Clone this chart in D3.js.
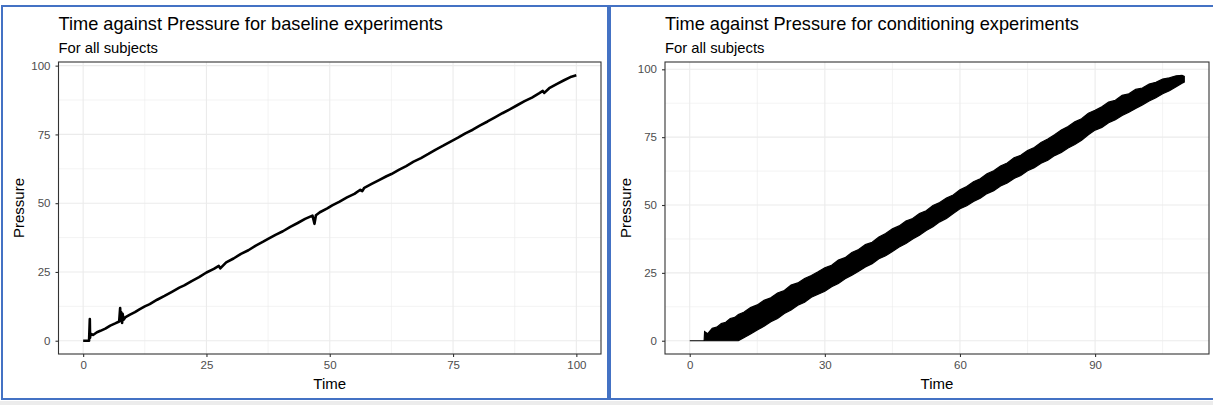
<!DOCTYPE html>
<html>
<head>
<meta charset="utf-8">
<script src="https://cdn.jsdelivr.net/npm/d3@7/dist/d3.min.js"></script>
<style>
  body { margin: 0; background: #fff; }
  svg text { font-family: "Liberation Sans", Arial, sans-serif; }
</style>
</head>
<body>
<svg id="chart" width="1213" height="405"></svg>
<script>
// baseline experiments: one noisy trace
var baseTime = [0, 1.2, 1.35, 1.4, 1.5, 2.0, 2.8, 3.5, 4.5, 5.5, 6.5, 7.3, 7.5, 7.6, 7.7, 7.9, 8.0, 8.2, 8.6, 9.5,
  10.5, 11.5, 12.5, 13.5, 15, 16.5, 18, 19.5, 20.5, 22, 23.5, 25, 26.5, 27.5, 27.8, 29, 30.5, 32, 33.5, 35,
  36.5, 37.5, 39, 40.5, 42, 43.5, 45, 46.5, 46.9, 47.2, 48, 49.5, 50.5, 52, 53.5, 55, 56.2, 56.6, 57, 58.5,
  60, 61.5, 62.5, 64, 65.5, 67, 68.5, 70, 71.5, 73, 74.5, 76, 77.5, 79, 80.5, 82, 83.5, 85, 86.5, 88,
  89.5, 91, 92.5, 93.2, 93.5, 94.5, 96, 97.5, 99, 100];
var basePressure = [0, 0, 7.9, 1.0, 2.6, 2.1, 3.1, 3.6, 4.4, 5.5, 6.3, 7.0, 11.9, 7.2, 10.4, 6.5, 9.8, 7.6, 8.6, 9.5,
  10.4, 11.5, 12.5, 13.3, 14.9, 16.3, 17.8, 19.3, 20.1, 21.7, 23.1, 24.8, 26.1, 27.2, 26.3, 28.5, 29.9, 31.6, 32.9, 34.6,
  36.0, 37.0, 38.5, 39.8, 41.4, 42.8, 44.3, 45.5, 42.5, 45.6, 46.7, 48.1, 49.2, 50.6, 52.1, 53.4, 54.9, 54.4, 55.6, 57.0,
  58.4, 59.8, 60.6, 62.1, 63.5, 65.1, 66.4, 67.9, 69.5, 70.9, 72.4, 73.8, 75.4, 76.7, 78.3, 79.7, 81.2, 82.7, 84.1, 85.6,
  87.1, 88.4, 90.0, 90.8, 90.1, 91.8, 93.3, 94.7, 96.0, 96.5];

// conditioning experiments: upper and lower edge of the dense band of traces
var condTime = [0, 3.2, 3.3, 4, 5, 6, 7, 8, 9, 10, 10.8, 12, 13.5, 15, 16.5, 18, 19.5, 21, 22.5, 24, 25.5, 27, 28.5, 30,
  31.5, 33, 34.5, 36, 37.5, 39, 40.5, 42, 43.5, 45, 46.5, 48, 49.5, 51, 52.5, 54, 55.5, 57, 58.5, 60,
  61.5, 63, 64.5, 66, 67.5, 69, 70.5, 72, 73.5, 75, 76.5, 78, 79.5, 81, 82.5, 84, 85.5, 87, 88.5, 90,
  91.5, 93, 94.5, 96, 97.5, 99, 100.5, 102, 103.5, 105, 106.5, 108, 109.3, 109.8];
var condUpper = [0, 0, 3.4, 2.6, 4.6, 5.0, 6.3, 6.8, 8.2, 8.6, 9.7, 10.5, 12.2, 13.2, 14.9, 15.8, 17.6, 18.5, 20.5, 21.3, 22.9, 24.0, 25.4, 26.9,
  27.8, 29.7, 30.6, 32.5, 33.6, 35.4, 36.3, 38.2, 39.5, 41.2, 42.3, 44.1, 45.0, 46.9, 47.9, 49.8, 50.9, 52.6, 53.7, 55.6,
  56.8, 58.6, 59.7, 61.5, 62.6, 64.4, 65.5, 67.4, 68.3, 70.1, 71.2, 73.0, 74.3, 75.9, 77.6, 78.9, 80.7, 81.8, 83.8, 84.9,
  86.2, 87.9, 88.6, 90.4, 91.0, 92.6, 93.1, 94.6, 95.2, 96.4, 96.9, 97.6, 97.8, 97.4];
var condLower = [0, 0, 0, 0, 0, 0, 0, 0, 0, 0, 0, 1.1, 2.5, 4.0, 5.3, 7.0, 8.2, 10.0, 11.3, 13.1, 14.2, 16.0, 17.1, 18.2,
  19.9, 21.1, 22.8, 24.1, 25.6, 27.2, 28.4, 30.2, 31.3, 32.9, 34.5, 35.8, 37.5, 38.9, 40.6, 42.0, 43.8, 45.0, 46.9, 48.6,
  49.7, 51.3, 52.5, 54.2, 55.3, 57.0, 58.1, 59.8, 60.9, 62.6, 63.7, 65.4, 66.5, 68.2, 69.4, 71.0, 72.3, 73.9, 75.9, 77.6,
  78.6, 80.3, 81.4, 83.0, 84.2, 85.6, 86.9, 88.3, 89.5, 91.0, 92.1, 93.6, 94.9, 95.3];

var baseXTicks = [0, 25, 50, 75, 100];
var baseXMinor = [12.5, 37.5, 62.5, 87.5];
var condXTicks = [0, 30, 60, 90];
var condXMinor = [15, 45, 75, 105];
var yTicks = [0, 25, 50, 75, 100];
var yMinor = [12.5, 37.5, 62.5, 87.5];

var svg = d3.select("#chart");

// light strip under the two boxes
svg.append("rect").attr("x", 0).attr("y", 401).attr("width", 1213).attr("height", 4).attr("fill", "#ececec");

// ggplot style 5% expansion
function padded(lo, hi) {
  var d = (hi - lo) * 0.05;
  return [lo - d, hi + d];
}

function drawPanel(cfg) {
  var top = 62, bottom = 354;
  var g = svg.append("g");

  var x = d3.scaleLinear()
    .domain(padded(d3.min(cfg.xs), d3.max(cfg.xs)))
    .range([cfg.left, cfg.right]);
  var y = d3.scaleLinear()
    .domain(padded(0, d3.max(cfg.ys)))
    .range([bottom, top]);

  // grid, minor first
  g.selectAll(".xminor").data(cfg.xMinor).enter().append("line")
    .attr("x1", d => x(d)).attr("x2", d => x(d)).attr("y1", top).attr("y2", bottom)
    .attr("stroke", "#ebebeb").attr("stroke-width", 0.6);
  g.selectAll(".yminor").data(yMinor).enter().append("line")
    .attr("x1", cfg.left).attr("x2", cfg.right).attr("y1", d => y(d)).attr("y2", d => y(d))
    .attr("stroke", "#ebebeb").attr("stroke-width", 0.6);
  g.selectAll(".xmajor").data(cfg.xTicks).enter().append("line")
    .attr("x1", d => x(d)).attr("x2", d => x(d)).attr("y1", top).attr("y2", bottom)
    .attr("stroke", "#ebebeb").attr("stroke-width", 1.1);
  g.selectAll(".ymajor").data(yTicks).enter().append("line")
    .attr("x1", cfg.left).attr("x2", cfg.right).attr("y1", d => y(d)).attr("y2", d => y(d))
    .attr("stroke", "#ebebeb").attr("stroke-width", 1.1);

  cfg.mark(g, x, y);

  // panel border
  g.append("rect")
    .attr("x", cfg.left).attr("y", top)
    .attr("width", cfg.right - cfg.left).attr("height", bottom - top)
    .attr("fill", "none").attr("stroke", "#333333").attr("stroke-width", 1.1);

  var xAxis = g.append("g")
    .attr("transform", "translate(0," + bottom + ")")
    .call(d3.axisBottom(x).tickValues(cfg.xTicks).tickSize(3).tickPadding(4));
  var yAxis = g.append("g")
    .attr("transform", "translate(" + cfg.left + ",0)")
    .call(d3.axisLeft(y).tickValues(yTicks).tickSize(3).tickPadding(5));

  [xAxis, yAxis].forEach(function (a) {
    a.select(".domain").remove();
    a.selectAll(".tick line").attr("stroke", "#333333").attr("stroke-width", 1.1);
    a.selectAll(".tick text")
      .attr("fill", "#4d4d4d")
      .style("font-size", "11.5px")
      .style("font-family", "'Liberation Sans', Arial, sans-serif");
  });

  // titles
  g.append("text").attr("x", cfg.left).attr("y", 29.5)
    .attr("font-size", 18.2).attr("fill", "#000").text(cfg.title);
  g.append("text").attr("x", cfg.left).attr("y", 52.5)
    .attr("font-size", 14.8).attr("fill", "#000").text("For all subjects");
  g.append("text").attr("x", (cfg.left + cfg.right) / 2).attr("y", 389)
    .attr("text-anchor", "middle").attr("font-size", 15).attr("fill", "#000").text("Time");
  g.append("text")
    .attr("transform", "translate(" + (cfg.left - 34.5) + "," + ((top + bottom) / 2) + ") rotate(-90)")
    .attr("text-anchor", "middle").attr("font-size", 15).attr("fill", "#000").text("Pressure");
}

drawPanel({
  left: 58.5, right: 601,
  xs: baseTime, ys: basePressure,
  xTicks: baseXTicks, xMinor: baseXMinor,
  title: "Time against Pressure for baseline experiments",
  mark: function (g, x, y) {
    var line = d3.line()
      .x(function (d, i) { return x(baseTime[i]); })
      .y(function (d) { return y(d); });
    g.append("path")
      .attr("d", line(basePressure))
      .attr("fill", "none")
      .attr("stroke", "#000")
      .attr("stroke-width", 2.6)
      .attr("stroke-linejoin", "round");
  }
});

drawPanel({
  left: 665, right: 1209,
  xs: condTime, ys: condUpper,
  xTicks: condXTicks, xMinor: condXMinor,
  title: "Time against Pressure for conditioning experiments",
  mark: function (g, x, y) {
    var area = d3.area()
      .x(function (d, i) { return x(condTime[i]); })
      .y0(function (d, i) { return y(condLower[i]); })
      .y1(function (d) { return y(d); });
    g.append("path")
      .attr("d", area(condUpper))
      .attr("fill", "#000")
      .attr("stroke", "#000")
      .attr("stroke-width", 1.2);
  }
});

// the two outlined boxes
svg.append("rect").attr("x", 2).attr("y", 6).attr("width", 606).attr("height", 393)
  .attr("fill", "none").attr("stroke", "#4472c4").attr("stroke-width", 2);
svg.append("rect").attr("x", 610).attr("y", 6).attr("width", 620).attr("height", 393)
  .attr("fill", "none").attr("stroke", "#4472c4").attr("stroke-width", 2);
</script>
</body>
</html>
